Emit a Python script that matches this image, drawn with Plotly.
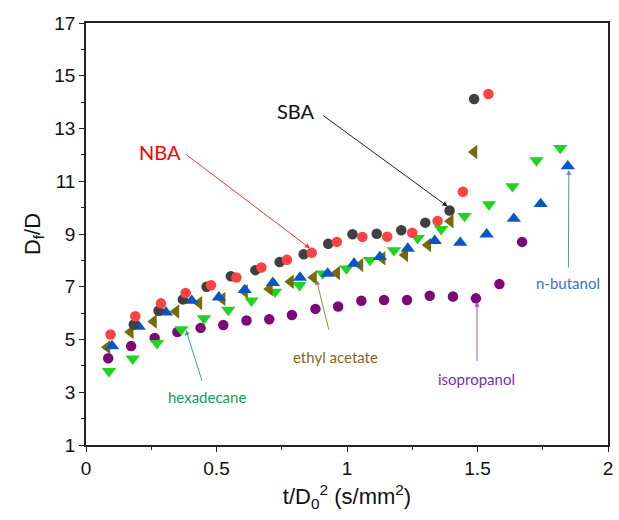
import plotly.graph_objects as go

# Normalised time t/D0^2 (s/mm^2) and Df/D for each fuel
sba_x = [0.183, 0.278, 0.371, 0.462, 0.555, 0.649, 0.742, 0.834, 0.928, 1.021, 1.114, 1.208, 1.300, 1.393, 1.487]
sba_y = [5.57, 6.09, 6.52, 7.00, 7.40, 7.63, 7.94, 8.23, 8.63, 8.99, 9.01, 9.14, 9.43, 9.89, 14.12]

nba_x = [0.094, 0.189, 0.287, 0.382, 0.479, 0.576, 0.672, 0.770, 0.865, 0.961, 1.059, 1.154, 1.250, 1.347, 1.444, 1.542]
nba_y = [5.19, 5.88, 6.37, 6.76, 7.06, 7.35, 7.73, 8.02, 8.29, 8.70, 8.89, 8.90, 9.05, 9.49, 10.60, 14.31]

nbutanol_x = [0.100, 0.202, 0.306, 0.405, 0.509, 0.608, 0.716, 0.820, 0.926, 1.027, 1.126, 1.233, 1.336, 1.434, 1.535, 1.639, 1.742, 1.846]
nbutanol_y = [4.75, 5.49, 6.03, 6.47, 6.60, 6.88, 7.15, 7.35, 7.50, 7.88, 8.13, 8.45, 8.74, 8.67, 8.99, 9.58, 10.14, 11.57]

ethyl_x = [0.081, 0.170, 0.259, 0.345, 0.433, 0.522, 0.608, 0.703, 0.784, 0.872, 0.961, 1.050, 1.135, 1.222, 1.310, 1.396, 1.487]
ethyl_y = [4.71, 5.28, 5.68, 6.06, 6.38, 6.54, 6.82, 6.91, 7.19, 7.35, 7.52, 7.82, 8.08, 8.20, 8.58, 9.48, 12.11]

hexa_x = [0.088, 0.179, 0.272, 0.365, 0.452, 0.545, 0.634, 0.724, 0.818, 0.907, 0.998, 1.088, 1.180, 1.271, 1.361, 1.450, 1.544, 1.634, 1.726, 1.817]
hexa_y = [3.80, 4.27, 4.86, 5.38, 5.80, 6.12, 6.47, 6.81, 7.06, 7.50, 7.69, 8.01, 8.38, 8.84, 9.18, 9.68, 10.12, 10.81, 11.79, 12.26]

iso_x = [0.085, 0.173, 0.263, 0.350, 0.439, 0.526, 0.615, 0.702, 0.789, 0.879, 0.966, 1.055, 1.142, 1.230, 1.317, 1.406, 1.494, 1.584, 1.671]
iso_y = [4.29, 4.75, 5.06, 5.28, 5.44, 5.55, 5.72, 5.77, 5.93, 6.16, 6.25, 6.47, 6.50, 6.50, 6.66, 6.63, 6.56, 7.10, 8.70]

x_ticks = [0, 0.5, 1, 1.5, 2]
x_tick_text = ["0", "0.5", "1", "1.5", "2"]
y_ticks = [1, 3, 5, 7, 9, 11, 13, 15, 17]

fig = go.Figure()

series = [
    ("isopropanol", iso_x, iso_y, "circle", "#7b0a78", 10.5),
    ("hexadecane", hexa_x, hexa_y, "triangle-down", "#1ed41e", 12.5),
    ("ethyl acetate", ethyl_x, ethyl_y, "triangle-left", "#776a08", 12.5),
    ("n-butanol", nbutanol_x, nbutanol_y, "triangle-up", "#0a56c8", 12.5),
    ("SBA", sba_x, sba_y, "circle", "#404040", 10.5),
    ("NBA", nba_x, nba_y, "circle", "#ff4242", 10.5),
]
for name, xs, ys, sym, col, sz in series:
    fig.add_trace(go.Scatter(
        x=xs, y=ys, mode="markers", name=name,
        marker=dict(symbol=sym, color=col, size=sz, line=dict(width=0)),
        showlegend=False,
    ))

label_font = "Lato, 'Open Sans', sans-serif"

# Callouts: label placed at the arrow tail, arrow pointing at a marker.
# (text, tail x, tail y, head x, head y, xanchor, start gap, text colour, arrow colour, size)
callouts = [
    ("SBA", 0.884, 13.67, 1.385, 10.05, "right", 8, "#111111", "#222222", 20),
    ("NBA", 0.372, 12.10, 0.858, 8.46, "right", 4, "#ff0000", "#ff3030", 20),
    ("ethyl acetate", 0.956, 4.35, 0.883, 7.26, "center", 17, "#8a6416", "#a0803c", 15),
    ("hexadecane", 0.464, 2.82, 0.383, 5.36, "center", 6, "#10a050", "#2ab07a", 15),
    ("isopropanol", 1.498, 3.49, 1.498, 6.43, "center", 8, "#7a30a0", "#9a5ab8", 15),
    ("n-butanol", 1.848, 7.14, 1.850, 11.43, "center", 5, "#3a72c8", "#5a8ad0", 15),
]
for text, axx, ayy, hx, hy, xanc, gap, tcol, acol, fs in callouts:
    fig.add_annotation(
        x=hx, y=hy, xref="x", yref="y", ax=axx, ay=ayy, axref="x", ayref="y",
        text=text, showarrow=True, arrowhead=2, arrowsize=1, arrowwidth=1,
        arrowcolor=acol, xanchor=xanc, yanchor="middle", startstandoff=gap,
        font=dict(family=label_font, size=fs, color=tcol),
    )

axis_common = dict(
    showline=True, linecolor="#222222", linewidth=1.5, mirror=True,
    showgrid=False, zeroline=False, ticks="outside", ticklen=5, tickwidth=1.2,
    tickcolor="#222222",
    tickfont=dict(family="Liberation Sans, Arial, sans-serif", size=19, color="#111111"),
    minor=dict(ticks="outside", ticklen=3, tickwidth=1, tickcolor="#222222"),
)

fig.update_xaxes(
    range=[0, 2], tickvals=x_ticks, ticktext=x_tick_text,
    title=dict(text="t/D<sub>0</sub><sup>2</sup> (s/mm<sup>2</sup>)",
               font=dict(family="Liberation Sans, Arial, sans-serif", size=22, color="#111111"),
               standoff=11),
    minor_dtick=0.25,
    **axis_common,
)
fig.update_yaxes(
    range=[1, 17], tickvals=y_ticks,
    title=dict(text="D<sub>f</sub>/D",
               font=dict(family="Liberation Sans, Arial, sans-serif", size=22, color="#111111"),
               standoff=8),
    minor_dtick=1,
    **axis_common,
)

fig.update_layout(
    width=619, height=520,
    margin=dict(l=86, r=6, t=23, b=75),
    plot_bgcolor="white", paper_bgcolor="white",
)

fig.write_html("out.html")
